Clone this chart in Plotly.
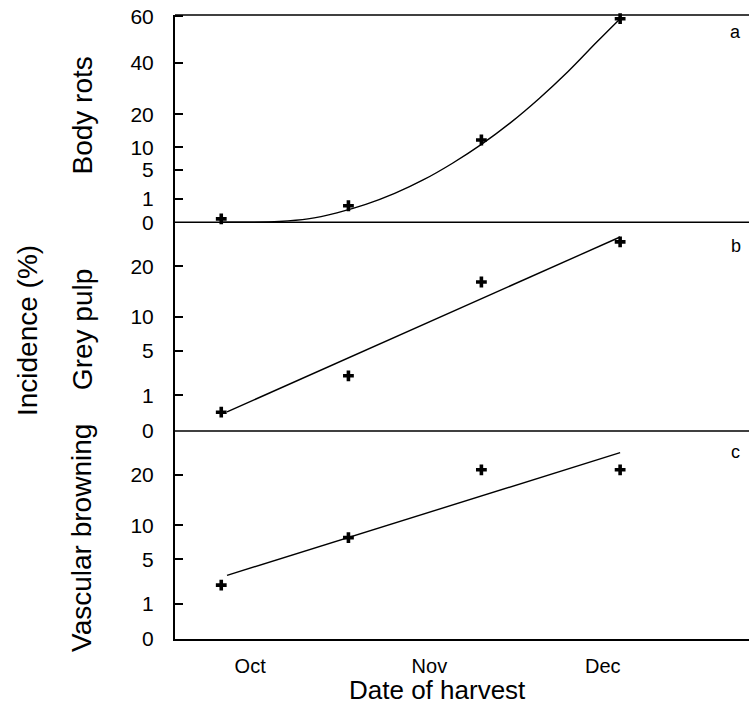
import math
import plotly.graph_objects as go

# ---- data (percent incidence) ----
harvest_dates = ["2000-09-26", "2000-10-18", "2000-11-10", "2000-12-04"]
body_rots = [0.02, 0.5, 12, 59]
grey_pulp = [0.28, 2.4, 16.6, 25.8]
vascular_browning = [2.3, 8.0, 21.2, 21.2]

# fitted curves
body_fit_dates = ["2000-09-26", "2000-10-01", "2000-10-06", "2000-10-11", "2000-10-16",
                  "2000-10-21", "2000-10-26", "2000-10-31", "2000-11-05", "2000-11-10",
                  "2000-11-15", "2000-11-20", "2000-11-25", "2000-11-30", "2000-12-04"]
body_fit = [0, 0, 0.001, 0.02, 0.16, 0.58, 1.52, 3.3, 6.3, 10.8, 17.2, 25.8, 36.5, 49.1, 59]
grey_fit_dates = ["2000-09-27", "2000-12-04"]
grey_fit = [0.29, 27.0]
vasc_fit_dates = ["2000-09-27", "2000-12-04"]
vasc_fit = [3.2, 25.3]

month_ticks = ["2000-10-01", "2000-11-01", "2000-12-01"]
month_labels = ["Oct", "Nov", "Dec"]
ticks_a = [0, 1, 5, 10, 20, 40, 60]
ticks_bc = [0, 1, 5, 10, 20]


def ang(p):
    """angular (arcsine square-root) transform, degrees"""
    return [math.degrees(math.asin(math.sqrt(max(v, 0) / 100.0))) for v in p]


FONT = "Liberation Sans, Arial, sans-serif"
fig = go.Figure()

panels = [
    ("y", body_rots, body_fit_dates, body_fit, "spline"),
    ("y2", grey_pulp, grey_fit_dates, grey_fit, "linear"),
    ("y3", vascular_browning, vasc_fit_dates, vasc_fit, "linear"),
]
for yax, pts, fd, fv, shape in panels:
    fig.add_trace(go.Scatter(x=fd, y=ang(fv), xaxis="x", yaxis=yax, mode="lines",
                             line=dict(color="black", width=1.4, shape=shape),
                             cliponaxis=False, showlegend=False, hoverinfo="skip"))
    fig.add_trace(go.Scatter(x=harvest_dates, y=ang(pts), xaxis="x", yaxis=yax,
                             mode="markers", marker=dict(symbol="cross", size=9, color="black"),
                             cliponaxis=False, showlegend=False))

dom_c = [0.0, 0.3333]
dom_b = [0.3333, 0.668]
dom_a = [0.668, 1.0]

yax_common = dict(showline=True, linecolor="black", linewidth=2, ticks="inside",
                  ticklen=8, tickwidth=1.5, tickcolor="black", showgrid=False,
                  zeroline=False, tickfont=dict(family=FONT, size=21, color="black"),
                  ticklabelstandoff=15, anchor="x")

fig.update_layout(
    width=749, height=709,
    margin=dict(l=175, r=0, t=15, b=70),
    plot_bgcolor="white", paper_bgcolor="white",
    font=dict(family=FONT, color="black"),
    xaxis=dict(type="date", range=["2000-09-18", "2000-12-26 07:00"],
               tickvals=month_ticks, ticktext=month_labels, ticks="",
               showline=True, linecolor="black", linewidth=1.5, showgrid=False,
               zeroline=False, anchor="y3", ticklabelstandoff=8,
               tickfont=dict(family=FONT, size=20, color="black")),
    yaxis=dict(domain=dom_a, range=[0, 51.1], tickvals=ang(ticks_a),
               ticktext=[str(t) for t in ticks_a], **yax_common),
    yaxis2=dict(domain=dom_b, range=[0, 33.7], tickvals=ang(ticks_bc),
                ticktext=[str(t) for t in ticks_bc], **yax_common),
    yaxis3=dict(domain=dom_c, range=[0, 33.7], tickvals=ang(ticks_bc),
                ticktext=[str(t) for t in ticks_bc], **yax_common),
)

for yy in [dom_b[0], dom_a[0], 1.0]:
    fig.add_shape(type="line", xref="paper", yref="paper", x0=0, x1=1, y0=yy, y1=yy,
                  line=dict(color="black", width=1.5))

titles = [("Body rots", 0.668 + (1 - 0.668) / 2 + 0.005),
          ("Grey pulp", 0.495),
          ("Vascular browning", 0.162)]
for txt, yy in titles:
    fig.add_annotation(text=txt, xref="paper", yref="paper", x=-0.162, y=yy,
                       textangle=-90, showarrow=False, xanchor="center", yanchor="middle",
                       font=dict(family=FONT, size=28, color="black"))
fig.add_annotation(text="Incidence (%)", xref="paper", yref="paper", x=-0.258, y=0.495,
                   textangle=-90, showarrow=False, xanchor="center", yanchor="middle",
                   font=dict(family=FONT, size=28, color="black"))
fig.add_annotation(text="Date of harvest", xref="paper", yref="paper", x=0.458, y=-0.082,
                   showarrow=False, xanchor="center", yanchor="middle",
                   font=dict(family=FONT, size=26, color="black"))
for lab, yy in [("a", 0.973), ("b", 0.63), ("c", 0.30)]:
    fig.add_annotation(text=lab, xref="paper", yref="paper", x=0.977, y=yy,
                       showarrow=False, xanchor="center", yanchor="middle",
                       font=dict(family=FONT, size=18, color="black"))

fig.write_html("out.html", config={"displayModeBar": False},
               post_script="document.body.style.margin='0';document.body.style.overflow='hidden';")
